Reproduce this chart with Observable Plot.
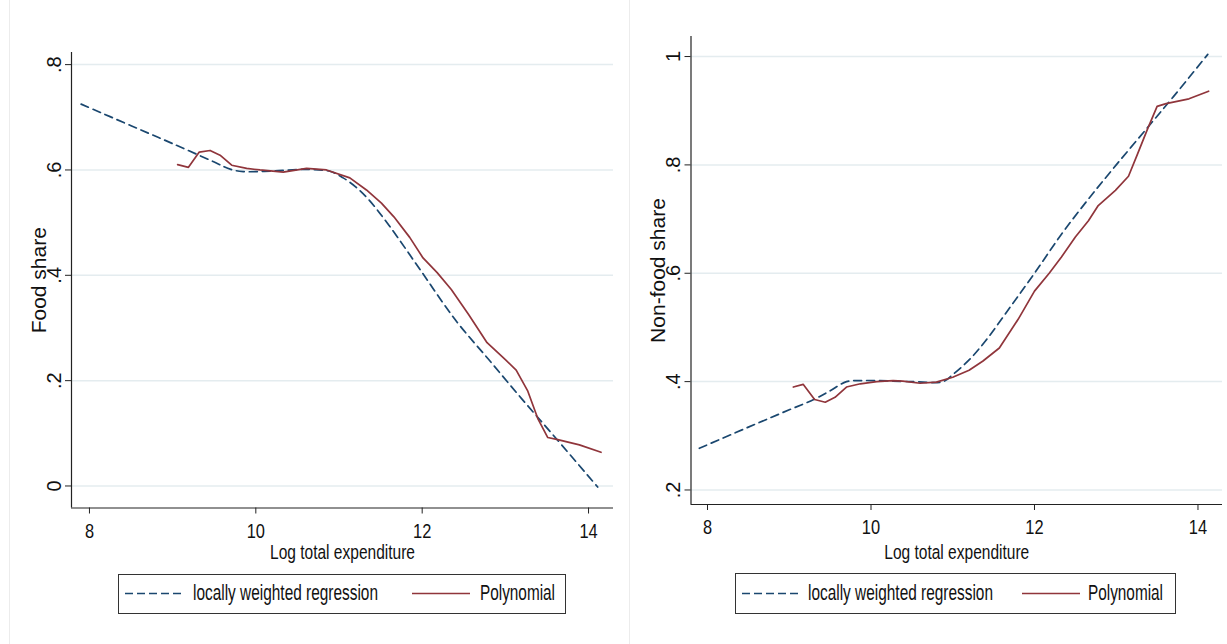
<!DOCTYPE html>
<html><head><meta charset="utf-8">
<script src="https://cdn.jsdelivr.net/npm/d3@7"></script>
<script src="https://cdn.jsdelivr.net/npm/@observablehq/plot@0.6"></script>
<style>
html,body{margin:0;padding:0;background:#fff;}
#root{position:relative;width:1227px;height:644px;overflow:hidden;background:#fff;font-family:"Liberation Sans",Arial,sans-serif;}
.panel{position:absolute;top:0;}
.sep{position:absolute;top:0;width:1px;height:644px;background:#ececec;}
svg.legend{position:absolute;left:0;top:0;pointer-events:none;}
</style></head><body><div id="root"></div>
<script>
// ---------- data ----------
const xTicks = [8, 10, 12, 14];
const xTitle = "Log total expenditure";

const foodYTicks = [0, 0.2, 0.4, 0.6, 0.8];
const foodYTickLabels = ["0", ".2", ".4", ".6", ".8"];
const foodTitle = "Food share";

const nonfoodYTicks = [0.2, 0.4, 0.6, 0.8, 1];
const nonfoodYTickLabels = [".2", ".4", ".6", ".8", "1"];
const nonfoodTitle = "Non-food share";

const seriesNames = ["locally weighted regression", "Polynomial"];

// Food share – locally weighted regression
const foodLowessX = [7.9, 8.5, 9.0, 9.5, 9.7, 9.85, 10.2, 10.6, 10.9, 11.05, 11.2, 11.35, 11.6, 12.0, 12.4, 12.8, 13.2, 13.6, 14.11];
const foodLowessY = [0.725, 0.684, 0.650, 0.615, 0.601, 0.597, 0.598, 0.601, 0.597, 0.585, 0.568, 0.545, 0.495, 0.405, 0.315, 0.240, 0.165, 0.092, -0.002];
// Food share – polynomial
const foodPolyX = [9.06, 9.19, 9.32, 9.45, 9.57, 9.71, 9.89, 10.05, 10.33, 10.61, 10.85, 11.13, 11.33, 11.51, 11.66, 11.85, 12.01, 12.18, 12.35, 12.56, 12.78, 13.0, 13.13, 13.27, 13.39, 13.51, 13.63, 13.89, 14.15];
const foodPolyY = [0.610, 0.605, 0.634, 0.637, 0.628, 0.609, 0.603, 0.600, 0.596, 0.603, 0.600, 0.585, 0.562, 0.537, 0.511, 0.472, 0.433, 0.405, 0.373, 0.325, 0.272, 0.240, 0.220, 0.180, 0.128, 0.092, 0.088, 0.078, 0.064];

// Non-food share – locally weighted regression
const nonfoodLowessX = [7.9, 8.5, 9.0, 9.3, 9.5, 9.7, 9.9, 10.5, 10.88, 11.0, 11.2, 11.4, 11.7, 12.0, 12.33, 12.66, 13.0, 13.4, 13.7, 14.12];
const nonfoodLowessY = [0.277, 0.316, 0.348, 0.367, 0.383, 0.400, 0.402, 0.400, 0.400, 0.413, 0.440, 0.475, 0.537, 0.600, 0.672, 0.737, 0.800, 0.872, 0.926, 1.004];
// Non-food share – polynomial
const nonfoodPolyX = [9.05, 9.17, 9.31, 9.44, 9.56, 9.70, 9.87, 10.07, 10.27, 10.39, 10.6, 10.8, 11.0, 11.2, 11.37, 11.57, 11.8, 12.0, 12.18, 12.33, 12.5, 12.66, 12.78, 12.99, 13.15, 13.26, 13.38, 13.50, 13.61, 13.89, 14.13];
const nonfoodPolyY = [0.390, 0.395, 0.367, 0.362, 0.371, 0.390, 0.396, 0.400, 0.402, 0.401, 0.397, 0.399, 0.408, 0.421, 0.438, 0.462, 0.515, 0.567, 0.600, 0.630, 0.667, 0.697, 0.725, 0.753, 0.779, 0.820, 0.865, 0.908, 0.913, 0.922, 0.936];

// ---------- style ----------
const navy = "#1a476f", maroon = "#90353b", gridColor = "#e4ecef", axisColor = "#222", textColor = "#111";
const regular = "'Liberation Sans',Arial,sans-serif";
const zip = (xs, ys) => xs.map((x, i) => ({x, y: ys[i]}));

function panel(o) {
  const plot = Plot.plot({
    width: o.width, height: o.height,
    marginLeft: o.mL, marginRight: o.mR, marginTop: o.mT, marginBottom: o.mB,
    x: {domain: o.xDomain},
    y: {domain: o.yDomain},
    style: {fontFamily: regular, fontSize: "20px", background: "transparent", color: axisColor, overflow: "visible"},
    marks: [
      Plot.gridY(o.yTicks, {stroke: gridColor, strokeOpacity: 1, strokeWidth: 1.5}),
      Plot.ruleX([o.xDomain[0]], {stroke: axisColor, strokeWidth: 1.2}),
      Plot.ruleY([o.yDomain[0]], {stroke: axisColor, strokeWidth: 1.2}),
      Plot.axisY(o.yTicks, {tickSize: 6, fill: "none", stroke: axisColor, label: null}),
      Plot.text(o.yTicks, {y: d => d, text: (d, i) => o.yTickLabels[i], frameAnchor: "left", dx: -11, rotate: -90,
        textAnchor: "middle", lineAnchor: "bottom", fontSize: 20, fontFamily: regular, fill: textColor}),
      Plot.axisX(xTicks, {tickSize: 6, tickPadding: 9, label: null, fontFamily: regular, fontSize: 20.5, stroke: axisColor, fill: textColor}),
      Plot.text([xTitle], {text: d => d, frameAnchor: "bottom", dy: o.titleDy, lineAnchor: "bottom", fontFamily: regular, fontSize: 20.5, fill: textColor}),
      Plot.text([o.yTitle], {text: d => d, frameAnchor: "left", dx: -26, rotate: -90, textAnchor: "middle", lineAnchor: "bottom", fontFamily: regular, fontSize: 21, fill: textColor}),
      Plot.line(o.lowess, {x: "x", y: "y", stroke: navy, strokeWidth: 1.7, strokeDasharray: "8,5", curve: "catmull-rom"}),
      Plot.line(o.poly, {x: "x", y: "y", stroke: maroon, strokeWidth: 1.7})
    ]
  });
  plot.classList.add("panel");
  plot.style.left = o.left + "px";
  return plot;
}

// horizontally condense horizontal texts (narrow look of the original)
function condense(svg) {
  svg.querySelectorAll('g[aria-label="x-axis tick label"] text').forEach(t => {
    const w = t.getComputedTextLength();
    t.setAttribute("textLength", (w * 0.8).toFixed(1));
    t.setAttribute("lengthAdjust", "spacingAndGlyphs");
  });
  svg.querySelectorAll("text").forEach(t => {
    if (t.textContent === xTitle) {
      t.setAttribute("textLength", 145);
      t.setAttribute("lengthAdjust", "spacingAndGlyphs");
    }
  });
}

const root = document.getElementById("root");
[9, 629].forEach(x => { const d = document.createElement("div"); d.className = "sep"; d.style.left = x + "px"; root.appendChild(d); });

const left = panel({
  left: 0, width: 625, height: 570, mL: 71, mR: 12, mT: 52, mB: 62.5, titleDy: 51,
  xDomain: [7.784, 14.30], yDomain: [-0.0418, 0.823],
  yTicks: foodYTicks, yTickLabels: foodYTickLabels, yTitle: foodTitle,
  lowess: zip(foodLowessX, foodLowessY), poly: zip(foodPolyX, foodPolyY)
});
const right = panel({
  left: 628, width: 599, height: 570, mL: 62.5, mR: 5, mT: 36, mB: 66, titleDy: 54,
  xDomain: [7.798, 14.30], yDomain: [0.1732, 1.037],
  yTicks: nonfoodYTicks, yTickLabels: nonfoodYTickLabels, yTitle: nonfoodTitle,
  lowess: zip(nonfoodLowessX, nonfoodLowessY), poly: zip(nonfoodPolyX, nonfoodPolyY)
});
root.appendChild(left); root.appendChild(right);
condense(left); condense(right);

// ---------- legends ----------
const NS = "http://www.w3.org/2000/svg";
const lg = document.createElementNS(NS, "svg");
lg.setAttribute("class", "legend"); lg.setAttribute("width", 1227); lg.setAttribute("height", 644);
root.appendChild(lg);
function el(tag, attrs, txt) {
  const e = document.createElementNS(NS, tag);
  for (const k in attrs) e.setAttribute(k, attrs[k]);
  if (txt) e.textContent = txt;
  lg.appendChild(e); return e;
}
function legend(L) {
  el("rect", {x: L.x, y: L.y, width: L.w, height: L.h, fill: "#fff", stroke: "#333", "stroke-width": 1});
  el("line", {x1: L.d1, x2: L.d2, y1: L.ly, y2: L.ly, stroke: navy, "stroke-width": 1.7, "stroke-dasharray": "8,4"});
  el("text", {x: L.t1, y: L.by, "font-family": regular, "font-size": 22, fill: textColor, textLength: 185, lengthAdjust: "spacingAndGlyphs"}, seriesNames[0]);
  el("line", {x1: L.r1, x2: L.r2, y1: L.ly, y2: L.ly, stroke: maroon, "stroke-width": 1.7});
  el("text", {x: L.t2, y: L.by, "font-family": regular, "font-size": 22, fill: textColor, textLength: 75, lengthAdjust: "spacingAndGlyphs"}, seriesNames[1]);
}
legend({x: 118.5, y: 574.5, w: 447, h: 39, d1: 125, d2: 182, ly: 593.5, t1: 193, by: 600, r1: 412, r2: 470, t2: 480});
legend({x: 735.5, y: 573.5, w: 440, h: 40, d1: 742, d2: 800, ly: 593.5, t1: 808, by: 600, r1: 1022, r2: 1080, t2: 1088});
</script></body></html>
